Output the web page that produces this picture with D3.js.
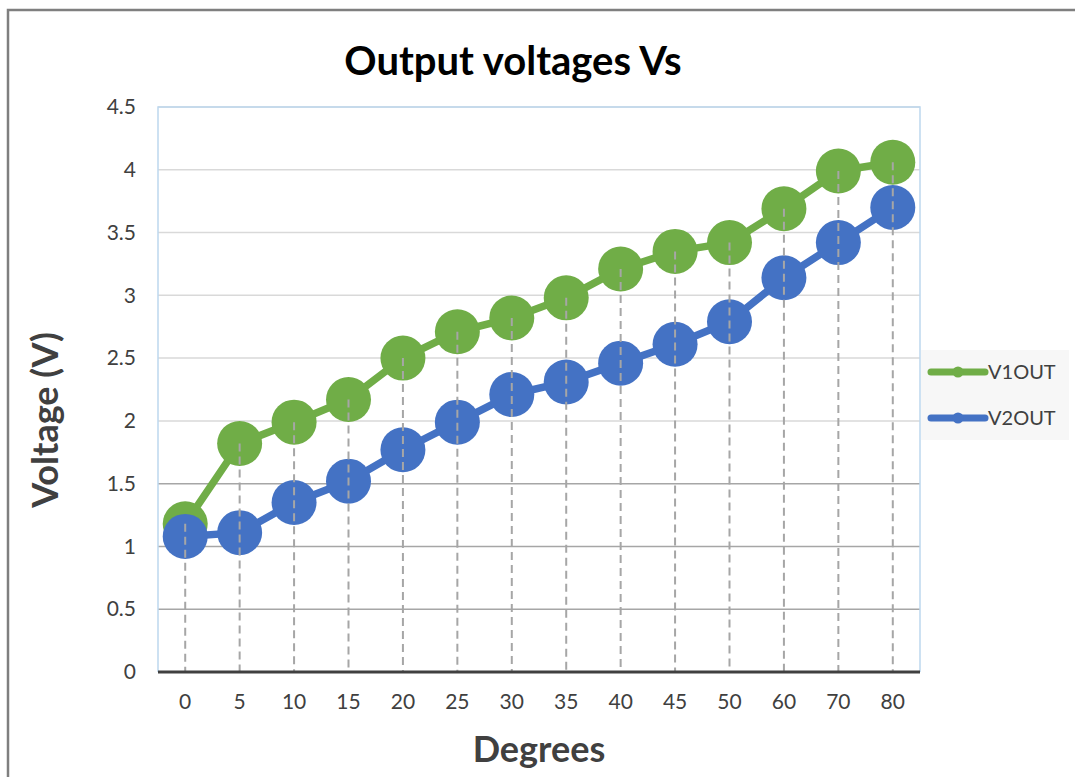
<!DOCTYPE html>
<html><head><meta charset="utf-8">
<script src="https://cdn.jsdelivr.net/npm/d3@7"></script>
<style>body{margin:0;background:#fff;}svg{display:block;font-family:Lato,"Open Sans",sans-serif;}</style>
</head><body><svg id="c" width="1075" height="777"></svg>
<script>
const categories = ["0","5","10","15","20","25","30","35","40","45","50","60","70","80"];
const v1out = [1.18,1.82,1.99,2.17,2.50,2.71,2.82,2.98,3.21,3.35,3.42,3.69,3.99,4.06];
const v2out = [1.08,1.11,1.35,1.52,1.77,1.99,2.21,2.31,2.46,2.61,2.79,3.14,3.42,3.70];
const yTicks = [0,0.5,1,1.5,2,2.5,3,3.5,4,4.5];
const seriesNames = ["V1OUT","V2OUT"];
const seriesColors = ["#70ad47","#4472c4"];

const svg = d3.select("#c");
const L=158, R=920, T=107, B=672;
const x = d3.scaleBand().domain(categories).range([L,R]);
const y = d3.scaleLinear().domain([0,4.5]).range([B,T]);
const cx = d => x(d)+x.bandwidth()/2;

// outer frame
svg.append("path").attr("d","M8,777 V10 H1075").attr("fill","none").attr("stroke","#7f7f7f").attr("stroke-width",2.5);

// title
svg.append("text").attr("x",513).attr("y",75).attr("text-anchor","middle")
  .attr("font-size",40).attr("font-weight","bold").attr("fill","#000").text("Output voltages Vs");

// gridlines
svg.append("g").selectAll("line").data(yTicks.filter(t=>t>0)).join("line")
  .attr("x1",L).attr("x2",R).attr("y1",d=>y(d)).attr("y2",d=>y(d))
  .attr("stroke",d=>d<=1.5?"#a6a6a6":"#d9d9d9").attr("stroke-width",1.5);

// plot border (light blue)
svg.append("path").attr("d",`M${L},${B} V${T} H${R} V${B}`).attr("fill","none").attr("stroke","#bdd7ee").attr("stroke-width",1.5);

// y axis labels
const yAxis = d3.axisLeft(y).tickValues(yTicks).tickSize(0).tickPadding(22).tickFormat(d3.format("~g"));
const ga = svg.append("g").attr("transform",`translate(${L},0)`).call(yAxis);
ga.select(".domain").remove();
ga.selectAll("text").attr("font-size",21).attr("fill","#404040").attr("font-family","Lato,'Open Sans',sans-serif");

// x axis labels
const xAxis = d3.axisBottom(x).tickSize(0).tickPadding(22);
const gx = svg.append("g").attr("transform",`translate(0,${B})`).call(xAxis);
gx.select(".domain").remove();
gx.selectAll("text").attr("font-size",21).attr("fill","#404040").attr("font-family","Lato,'Open Sans',sans-serif");

// lines & markers
const data=[v1out,v2out];
data.forEach((s,i)=>{
  const line=d3.line().x((d,j)=>cx(categories[j])).y(d=>y(d));
  svg.append("path").datum(s).attr("d",line).attr("fill","none").attr("stroke",seriesColors[i]).attr("stroke-width",7.5).attr("stroke-linejoin","round");
  svg.append("g").selectAll("circle").data(s).join("circle")
    .attr("cx",(d,j)=>cx(categories[j])).attr("cy",d=>y(d)).attr("r",22.5).attr("fill",seriesColors[i]);
});

// drop lines
svg.append("g").selectAll("line").data(categories).join("line")
  .attr("x1",d=>cx(d)).attr("x2",d=>cx(d))
  .attr("y1",(d,j)=>y(Math.max(v1out[j],v2out[j]))).attr("y2",B)
  .attr("stroke","#a6a6a6").attr("stroke-width",2).attr("stroke-dasharray","8,5");

// x axis line
svg.append("line").attr("x1",L).attr("x2",R).attr("y1",B).attr("y2",B).attr("stroke","#404040").attr("stroke-width",3);

// axis titles
svg.append("text").attr("x",539).attr("y",762).attr("text-anchor","middle").attr("font-size",36).attr("font-weight","bold").attr("fill","#404040").text("Degrees");
svg.append("text").attr("transform","translate(58,420) rotate(-90)").attr("text-anchor","middle").attr("font-size",36).attr("font-weight","bold").attr("fill","#404040").text("Voltage (V)");

// legend
const lg = svg.append("g");
lg.append("rect").attr("x",921).attr("y",350).attr("width",148).attr("height",90).attr("fill","#f7f7f7");
seriesNames.forEach((n,i)=>{
  const yy = 372 + i*46;
  lg.append("line").attr("x1",931).attr("x2",985).attr("y1",yy).attr("y2",yy).attr("stroke",seriesColors[i]).attr("stroke-width",7).attr("stroke-linecap","round");
  lg.append("circle").attr("cx",958).attr("cy",yy).attr("r",5.5).attr("fill",seriesColors[i]);
  lg.append("text").attr("x",988).attr("y",yy+7).attr("font-size",20).attr("fill","#404040").text(n);
});
</script></body></html>
